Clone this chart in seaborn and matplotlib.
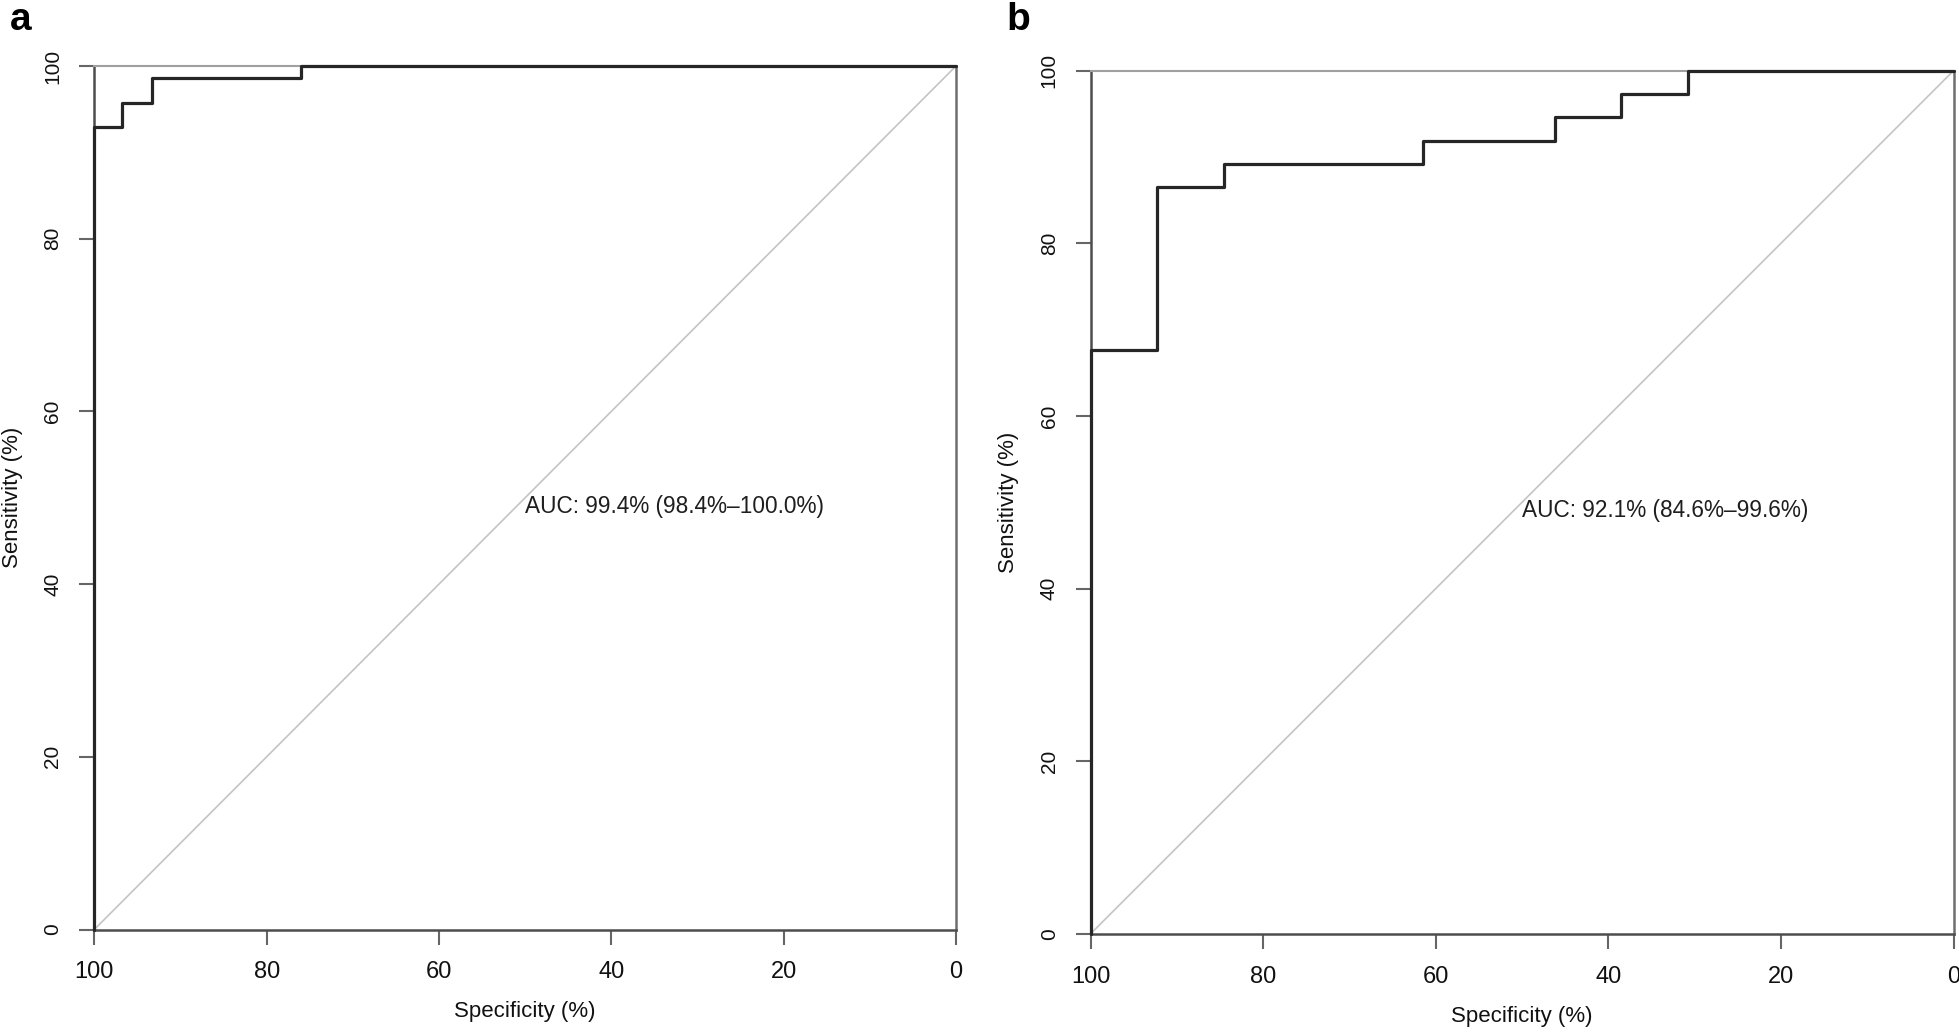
import matplotlib
matplotlib.use("Agg")
import matplotlib.pyplot as plt
import numpy as np
import pandas as pd
import seaborn as sns

# ROC corner points (specificity %, sensitivity %)
spec_a = [100.0, 100.0, 96.8, 93.3, 76.0, 0.0]
sens_a = [0.0, 92.9, 95.7, 98.6, 100.0, 100.0]
auc_a = "AUC: 99.4% (98.4%\u2013100.0%)"

spec_b = [100.0, 100.0, 92.3, 84.6, 61.5, 46.2, 38.5, 30.8, 0.0]
sens_b = [0.0, 67.6, 86.5, 89.2, 91.9, 94.6, 97.3, 100.0, 100.0]
auc_b = "AUC: 92.1% (84.6%\u201399.6%)"

ticks = [100, 80, 60, 40, 20, 0]
panel_letters = ["a", "b"]

sns.set_theme(style="white")
plt.rcParams["font.family"] = ["Liberation Sans", "DejaVu Sans"]

W, H = 1959, 1032
fig = plt.figure(figsize=(W / 100, H / 100), dpi=100)

# axes boxes in pixels: left, top, right, bottom
boxes = [(94.3, 66.0, 956.0, 929.5), (1090.7, 70.7, 1953.5, 933.7)]
panels = [(spec_a, sens_a, auc_a), (spec_b, sens_b, auc_b)]

for (l, t, r, b), (spec, sens, auc), letter in zip(boxes, panels, panel_letters):
    ax = fig.add_axes([l / W, 1 - b / H, (r - l) / W, (b - t) / H])
    ax.set_xlim(100, 0)
    ax.set_ylim(0, 100)

    # chance line
    ax.axline((0, 100), slope=-1, color="#c4c4c4", lw=1.2, zorder=1)

    df = pd.DataFrame({"Specificity": spec, "Sensitivity": sens})
    sns.lineplot(data=df, x="Specificity", y="Sensitivity", ax=ax, sort=False,
                 estimator=None, drawstyle="steps-post", color="#262626",
                 lw=2.3, zorder=3, clip_on=False)

    ax.text(50, 49, auc, ha="left", va="center", fontsize=16.3, color="#1e1e1e")

    ax.set_xticks(ticks)
    ax.set_yticks(ticks)
    ax.set_xticklabels([str(v) for v in ticks])
    ax.set_yticklabels([str(v) for v in ticks], rotation=90, va="center")
    ax.tick_params(axis="x", length=11, width=1.5, color="#666666", pad=12,
                   labelsize=17, labelcolor="#111111")
    ax.tick_params(axis="y", length=11, width=1.5, color="#666666", pad=12,
                   labelsize=15, labelcolor="#111111")
    ax.tick_params(left=True, bottom=True)

    for side in ["left", "bottom"]:
        ax.spines[side].set_color("#4d4d4d")
        ax.spines[side].set_linewidth(1.8)
    ax.spines["right"].set_color("#6e6e6e")
    ax.spines["right"].set_linewidth(1.8)
    ax.spines["top"].set_color("#a0a0a0")
    ax.spines["top"].set_linewidth(1.5)

    ax.set_xlabel("Specificity (%)", fontsize=16, color="#111111", va="center")
    ax.set_ylabel("Sensitivity (%)", fontsize=16, color="#111111", va="center")
    ax.xaxis.set_label_coords(0.5, -0.0955)
    ax.yaxis.set_label_coords(-0.0955, 0.5)
    ax.grid(False)

    fig.text((l - 84) / W, 1 - 30 / H, letter, fontsize=28, fontweight="bold",
             ha="left", va="baseline", color="black")

fig.savefig("out.png", dpi=100, facecolor="white")
